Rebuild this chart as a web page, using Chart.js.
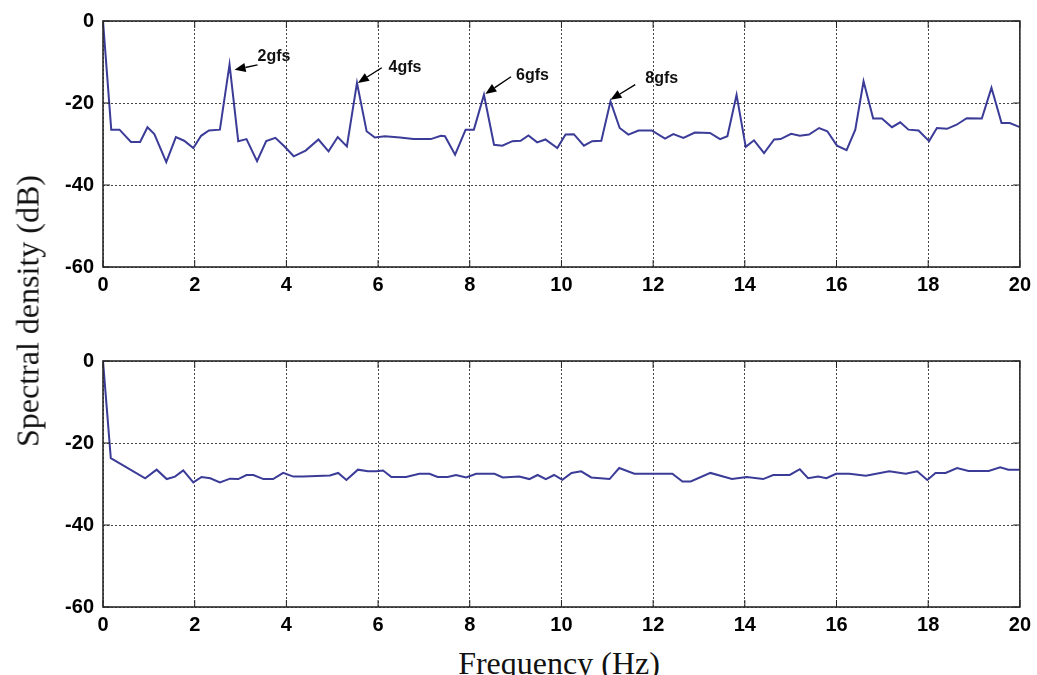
<!DOCTYPE html>
<html>
<head>
<meta charset="utf-8">
<script src="https://cdn.jsdelivr.net/npm/chart.js@4/dist/chart.umd.min.js"></script>
<style>
  html, body { margin: 0; padding: 0; background: #fff; }
  body { width: 1037px; height: 675px; position: relative; overflow: hidden; }
  canvas { position: absolute; left: 0; }
  #c1 { top: 0; }
  #c2 { top: 340px; }
  .ytitle { position: absolute; left: 28px; top: 311px; transform: translate(-50%, -50%) rotate(-90deg);
            font-family: 'Liberation Serif', 'Times New Roman', serif; font-size: 32px; color: #111; white-space: nowrap; }
  .xtitle { position: absolute; left: 559px; top: 645px; transform: translateX(-50%);
            font-family: 'Liberation Serif', 'Times New Roman', serif; font-size: 32px; color: #111; white-space: nowrap; }
</style>
</head>
<body>
<canvas id="c1" width="1037" height="300"></canvas>
<canvas id="c2" width="1037" height="300"></canvas>
<div class="ytitle">Spectral density (dB)</div>
<div class="xtitle">Frequency (Hz)</div>
<script>
// ---- data ----
const xTickValues = [0, 2, 4, 6, 8, 10, 12, 14, 16, 18, 20];
const yTickValues = [0, -20, -40, -60];

const topFreq = [0, 0.18, 0.36, 0.61, 0.81, 0.97, 1.12, 1.38, 1.59, 1.77, 1.97, 2.14, 2.31, 2.55, 2.76, 2.95, 3.13, 3.36, 3.56, 3.76, 3.96, 4.16, 4.42, 4.70, 4.92, 5.12, 5.32, 5.54, 5.75, 5.93, 6.15, 6.48, 6.77, 7.15, 7.37, 7.46, 7.68, 7.91, 8.09, 8.31, 8.53, 8.71, 8.93, 9.11, 9.28, 9.47, 9.65, 9.91, 10.09, 10.27, 10.49, 10.67, 10.87, 11.07, 11.27, 11.46, 11.68, 11.97, 12.26, 12.44, 12.66, 12.91, 13.24, 13.46, 13.62, 13.82, 14.02, 14.20, 14.42, 14.64, 14.78, 15.01, 15.20, 15.40, 15.62, 15.80, 16.01, 16.22, 16.41, 16.59, 16.80, 16.99, 17.21, 17.39, 17.57, 17.79, 18.02, 18.19, 18.41, 18.62, 18.84, 19.17, 19.38, 19.60, 19.78, 20.0];
const topDb = [0, -26.5, -26.5, -29.5, -29.5, -25.9, -27.6, -34.4, -28.3, -29.2, -31.0, -28.0, -26.7, -26.5, -10.6, -29.3, -28.8, -34.2, -29.3, -28.5, -30.6, -33.0, -31.6, -28.9, -31.8, -28.3, -30.6, -15.1, -26.9, -28.4, -28.1, -28.4, -28.8, -28.8, -28.0, -28.1, -32.6, -26.5, -26.5, -18.0, -30.2, -30.4, -29.3, -29.2, -27.9, -29.6, -28.9, -31.0, -27.7, -27.6, -30.4, -29.3, -29.2, -19.6, -26.1, -27.7, -26.7, -26.7, -28.7, -27.6, -28.5, -27.2, -27.3, -28.8, -28.1, -18.0, -30.7, -29.1, -32.2, -28.9, -28.8, -27.5, -28.0, -27.7, -26.1, -26.9, -30.4, -31.5, -26.5, -14.7, -23.8, -23.8, -25.9, -24.7, -26.5, -26.7, -29.3, -26.1, -26.3, -25.3, -23.7, -23.8, -16.3, -24.9, -24.9, -25.9];

const bottomFreq = [0, 0.17, 0.92, 1.17, 1.39, 1.57, 1.75, 1.97, 2.15, 2.34, 2.55, 2.77, 2.95, 3.13, 3.28, 3.50, 3.71, 3.93, 4.15, 4.37, 4.95, 5.13, 5.31, 5.56, 5.78, 5.96, 6.11, 6.29, 6.61, 6.90, 7.12, 7.30, 7.52, 7.70, 7.92, 8.14, 8.54, 8.72, 9.08, 9.30, 9.48, 9.66, 9.84, 10.02, 10.22, 10.43, 10.65, 11.05, 11.26, 11.59, 12.02, 12.42, 12.64, 12.82, 13.25, 13.72, 14.04, 14.40, 14.62, 14.98, 15.20, 15.38, 15.60, 15.78, 15.99, 16.28, 16.64, 17.15, 17.51, 17.76, 17.98, 18.16, 18.38, 18.63, 18.88, 19.32, 19.57, 19.75, 20.0];
const bottomDb = [0, -23.7, -28.6, -26.5, -28.8, -28.2, -26.7, -29.6, -28.3, -28.6, -29.6, -28.7, -28.8, -27.8, -27.8, -28.8, -28.8, -27.3, -28.2, -28.2, -27.9, -27.3, -29.0, -26.5, -26.9, -26.9, -26.7, -28.3, -28.3, -27.5, -27.5, -28.3, -28.3, -27.8, -28.4, -27.5, -27.5, -28.4, -28.2, -28.8, -27.8, -28.8, -27.8, -29.0, -27.3, -26.9, -28.4, -28.8, -26.1, -27.5, -27.5, -27.5, -29.4, -29.4, -27.3, -28.8, -28.3, -28.8, -27.8, -27.8, -26.4, -28.6, -28.2, -28.6, -27.5, -27.5, -28.0, -26.9, -27.5, -26.9, -29.0, -27.3, -27.3, -26.1, -26.8, -26.8, -25.9, -26.5, -26.5];

// annotations (top panel), positions in data units
const annLabels = ['2gfs', '4gfs', '6gfs', '8gfs'];
const annHeadX = [2.87, 5.56, 8.34, 11.07];
const annHeadY = [-11.9, -15.1, -17.8, -19.2];
const annTailX = [3.37, 6.08, 8.90, 11.61];
const annTailY = [-10.7, -11.4, -13.6, -15.5];
const annTextX = [3.37, 6.23, 9.01, 11.83];
const annTextY = [-8.7, -11.4, -13.3, -14.1];

// ---- rendering ----
const tickFont = { family: "'Liberation Sans Narrow', 'Arial Narrow', 'Liberation Sans', Arial, sans-serif", size: 20, weight: 'bold' };
const lineColor = '#3b3b98';

const framePlugin = {
  id: 'frame',
  afterDatasetsDraw(chart) {
    const { ctx, chartArea: a, scales } = chart;
    ctx.save();
    ctx.strokeStyle = '#222';
    ctx.lineWidth = 1;
    const L = 7;
    ctx.beginPath();
    scales.x.ticks.forEach(t => {
      const px = scales.x.getPixelForValue(t.value);
      ctx.moveTo(px, a.bottom); ctx.lineTo(px, a.bottom - L);
      ctx.moveTo(px, a.top); ctx.lineTo(px, a.top + L);
    });
    scales.y.ticks.forEach(t => {
      const py = scales.y.getPixelForValue(t.value);
      ctx.moveTo(a.left, py); ctx.lineTo(a.left + L, py);
      ctx.moveTo(a.right, py); ctx.lineTo(a.right - L, py);
    });
    ctx.stroke();
    ctx.lineWidth = 1.6;
    ctx.strokeStyle = '#2a2a2a';
    ctx.strokeRect(a.left, a.top, a.right - a.left, a.bottom - a.top);
    ctx.restore();
  }
};

const annotationPlugin = {
  id: 'gfs',
  afterDatasetsDraw(chart, args, opts) {
    if (!opts.enabled) return;
    const { ctx, scales } = chart;
    ctx.save();
    ctx.strokeStyle = '#000';
    ctx.fillStyle = '#000';
    ctx.lineWidth = 1.4;
    annLabels.forEach((lab, i) => {
      const hx = scales.x.getPixelForValue(annHeadX[i]);
      const hy = scales.y.getPixelForValue(annHeadY[i]);
      const tx = scales.x.getPixelForValue(annTailX[i]);
      const ty = scales.y.getPixelForValue(annTailY[i]);
      const ang = Math.atan2(hy - ty, hx - tx);
      const hl = 11, hw = 4.5;
      const bx = hx - hl * Math.cos(ang), by = hy - hl * Math.sin(ang);
      ctx.beginPath();
      ctx.moveTo(tx, ty); ctx.lineTo(bx, by);
      ctx.stroke();
      ctx.beginPath();
      ctx.moveTo(hx, hy);
      ctx.lineTo(bx + hw * Math.sin(ang), by - hw * Math.cos(ang));
      ctx.lineTo(bx - hw * Math.sin(ang), by + hw * Math.cos(ang));
      ctx.closePath();
      ctx.fill();
      ctx.font = "bold 16px 'Liberation Sans Narrow', 'Arial Narrow', 'Liberation Sans', Arial, sans-serif";
      ctx.textAlign = 'left';
      ctx.textBaseline = 'middle';
      ctx.fillStyle = '#111';
      ctx.fillText(lab, scales.x.getPixelForValue(annTextX[i]), scales.y.getPixelForValue(annTextY[i]));
      ctx.fillStyle = '#000';
    });
    ctx.restore();
  }
};

function makeChart(id, xs, ys, withAnn) {
  const pts = xs.map((x, i) => ({ x: x, y: ys[i] }));
  return new Chart(document.getElementById(id), {
    type: 'line',
    data: { datasets: [{ data: pts, borderColor: lineColor, borderWidth: 2, pointRadius: 0, tension: 0, fill: false }] },
    options: {
      responsive: false,
      animation: false,
      devicePixelRatio: 1,
      layout: { padding: { top: 21, right: 12, bottom: 0, left: 0 } },
      plugins: { legend: { display: false }, tooltip: { enabled: false }, gfs: { enabled: withAnn } },
      scales: {
        x: {
          type: 'linear', min: 0, max: 20,
          afterFit(s) { s.height = 33; },
          afterBuildTicks(s) { s.ticks = xTickValues.map(v => ({ value: v })); },
          grid: { color: '#444', lineWidth: 1, drawTicks: false },
          border: { display: false, dash: [2, 2] },
          ticks: { font: tickFont, color: '#000', padding: 6, maxRotation: 0, autoSkip: false, callback: v => String(v) }
        },
        y: {
          type: 'linear', min: -60, max: 0,
          afterFit(s) { s.width = 103; },
          afterBuildTicks(s) { s.ticks = yTickValues.map(v => ({ value: v })); },
          grid: { color: '#444', lineWidth: 1, drawTicks: false },
          border: { display: false, dash: [2, 2] },
          ticks: { font: tickFont, color: '#000', padding: 9, callback: v => String(v) }
        }
      }
    },
    plugins: [framePlugin, annotationPlugin]
  });
}

makeChart('c1', topFreq, topDb, true);
makeChart('c2', bottomFreq, bottomDb, false);
</script>
</body>
</html>
